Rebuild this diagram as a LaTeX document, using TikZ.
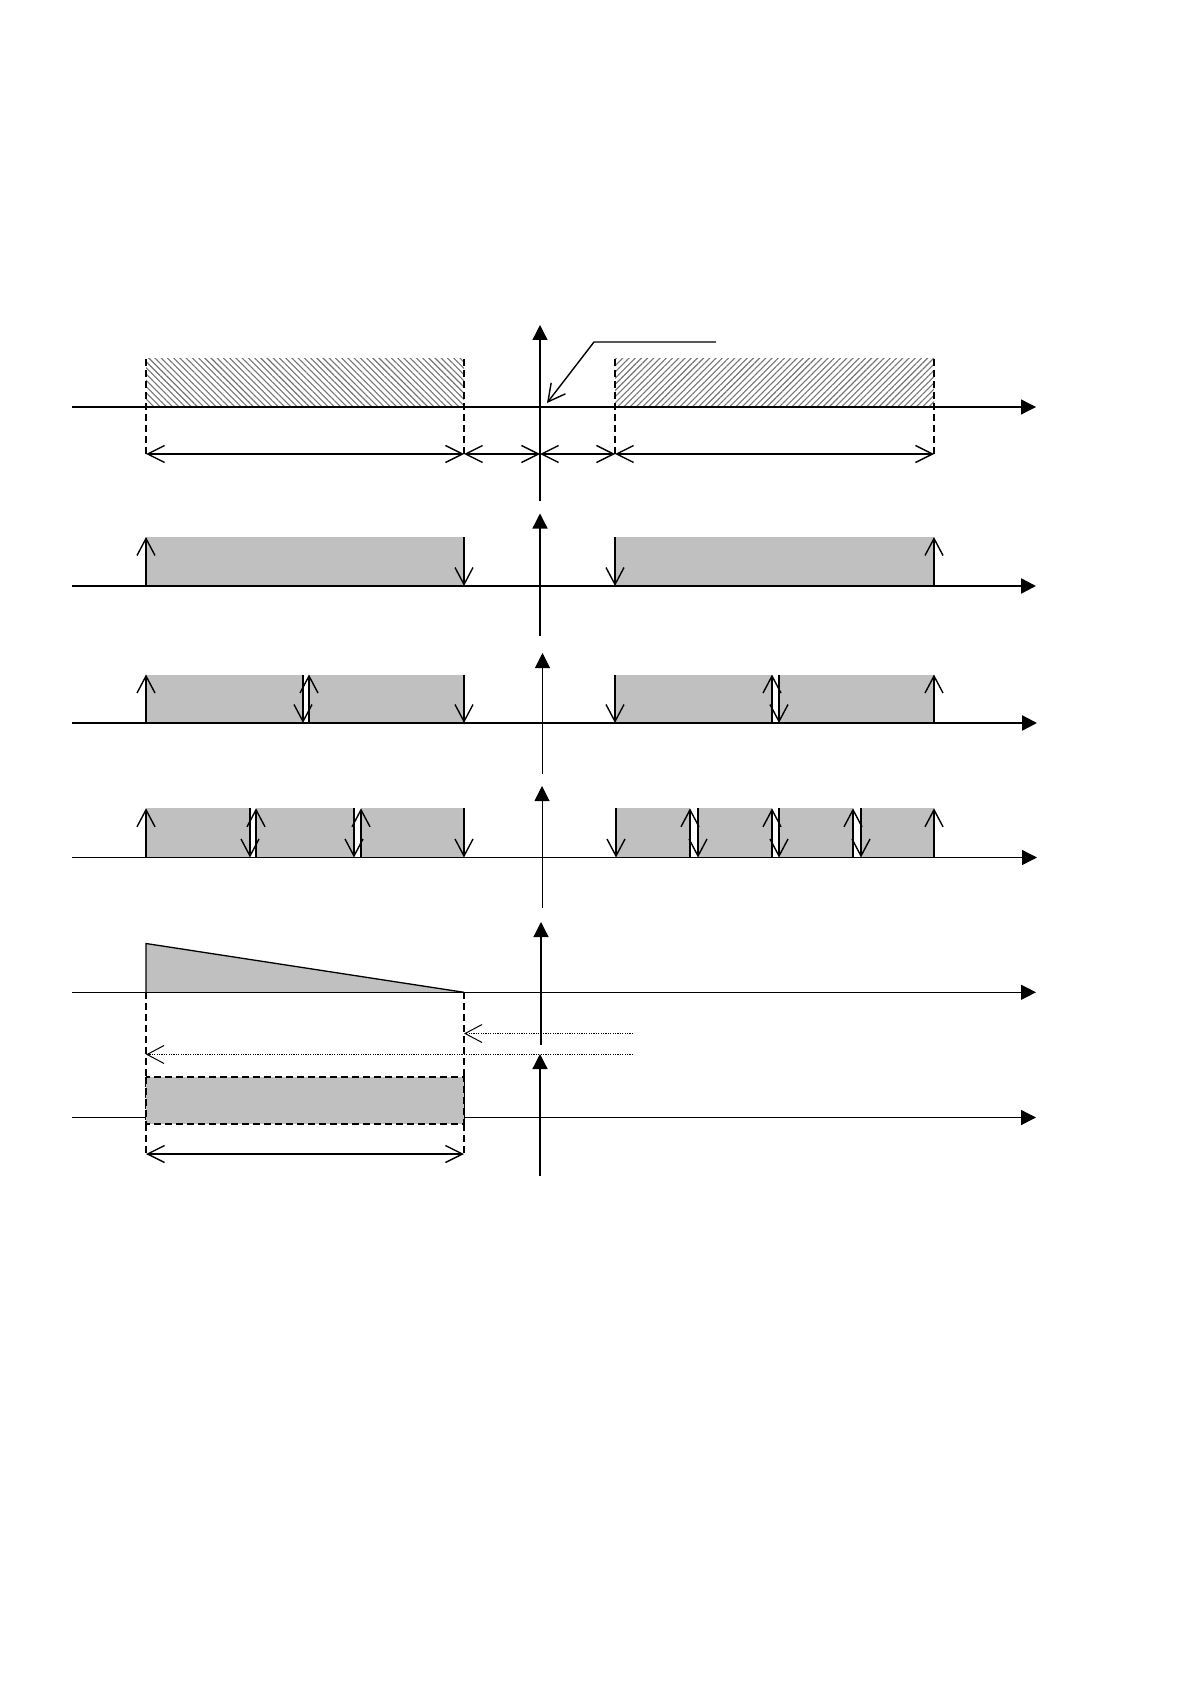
\documentclass[tikz,border=0pt]{standalone}
\usepackage{tikz}
\usetikzlibrary{arrows.meta, patterns.meta}
\definecolor{pulsegray}{RGB}{192,192,192}
\tikzset{
    taxis/.style={line width=0.65pt, -{Triangle[length=7.5pt, width=7.5pt]}}, % axes with filled tips
    thick taxis/.style={taxis, line width=1.2pt},
    flank/.style={line width=0.7pt, -{Straight Barb[length=8.5pt, width=9pt]}}, % rising / falling edges
    dim/.style={line width=0.7pt, {Straight Barb[length=8.5pt, width=8.5pt]}-{Straight Barb[length=8.5pt, width=8.5pt]}},
    guide/.style={line width=0.6pt, dash pattern=on 3.5pt off 2pt},
    hatch/.style={pattern={Lines[angle=#1, distance=2.2pt, line width=0.55pt]}, pattern color=black!55}
}

\begin{document}
\begin{tikzpicture}[x=0.5pt, y=-0.5pt]
    \useasboundingbox (0,0) rectangle (1190,1684);
    \def\xl{72} \def\xr{1036} \def\xa{146} \def\xb{464} \def\xc{615} \def\xd{934}

    % window / hatched periods
    \fill[hatch=-45] (\xa,359) rectangle (\xb,407);
    \fill[hatch=45] (\xc,359) rectangle (\xd,407);
    \foreach \x in {\xa,\xb,\xc,\xd} {\draw[guide] (\x,359) -- (\x,454);}
    \draw[taxis] (\xl,407) -- (\xr,407);
    \draw[taxis] (540,501) -- (540,325);
    \draw[dim] (\xa,454) -- (\xb,454);
    \draw[dim] (\xb,454) -- (540,454);
    \draw[dim] (540,454) -- (\xc,454);
    \draw[dim] (\xc,454) -- (\xd,454);
    \coordinate (call) at (716,342);
    \coordinate (origin) at (547,403);
    \draw[flank] (call) -- (594,342) -- (origin);

    % one pulse
    \fill[pulsegray] (\xa,537) rectangle (\xb,586);
    \fill[pulsegray] (\xc,537) rectangle (\xd,586);
    \draw[thick taxis] (\xl,586) -- (\xr,586);
    \draw[taxis] (540,636) -- (540,513.5);
    \foreach \x in {\xa,\xd} {\draw[flank] (\x,586) -- (\x,537);}
    \foreach \x in {\xb,\xc} {\draw[flank] (\x,537) -- (\x,586);}

    % two pulses
    \foreach \u/\v in {\xa/303, 309/\xb, \xc/772, 779/\xd} {\fill[pulsegray] (\u,674.5) rectangle (\v,723);}
    \draw[thick taxis] (\xl,723) -- (\xr+1,723);
    \draw[taxis, line width=0.5pt] (542.5,774) -- (542.5,653);
    \foreach \x in {\xa,309,772,\xd} {\draw[flank] (\x,723) -- (\x,674.5);}
    \foreach \x in {303,\xb,\xc,779} {\draw[flank] (\x,674.5) -- (\x,723);}

    % three and four pulses
    \foreach \u/\v in {\xa/250, 256/354, 361/\xb, 616/690, 698/772, 779/853, 861/\xd} {\fill[pulsegray] (\u,808.3) rectangle (\v,857.5);}
    \draw[taxis] (\xl,857.5) -- (\xr+1,857.5);
    \draw[taxis, line width=0.5pt] (542,908) -- (542,786);
    \foreach \x in {\xa,256,361,690,772,853,\xd} {\draw[flank] (\x,857.5) -- (\x,808.3);}
    \foreach \x in {250,354,\xb,616,698,779,861} {\draw[flank] (\x,808.3) -- (\x,857.5);}

    % decaying level
    \fill[pulsegray] (\xa,943.5) -- (\xb,992.3) -- (\xa,992.3) -- cycle;
    \draw[line width=0.65pt] (\xa,992.3) -- (\xa,943.5) -- (\xb,992.3);
    \draw[taxis] (\xl,992.3) -- (\xr,992.3);
    \draw[taxis] (541,1045) -- (541,922);
    \foreach \x in {\xa,\xb} {\draw[guide] (\x,992.3) -- (\x,1154);}
    \draw[flank, line width=0.5pt, dash pattern=on 0.6pt off 0.6pt] (633,1033.5) -- (\xb,1033.5);
    \draw[flank, line width=0.5pt, dash pattern=on 0.6pt off 0.6pt] (633,1054.5) -- (\xa,1054.5);

    % resulting block
    \draw[taxis] (\xl,1117.5) -- (\xr,1117.5);
    \fill[pulsegray] (\xa,1077) rectangle (\xb,1124);
    \draw[line width=1.2pt, dash pattern=on 3.5pt off 2pt] (\xa,1077) rectangle (\xb,1124);
    \draw[taxis] (540,1176) -- (540,1054);
    \draw[dim] (\xa,1154) -- (\xb,1154);
\end{tikzpicture}
\end{document}
